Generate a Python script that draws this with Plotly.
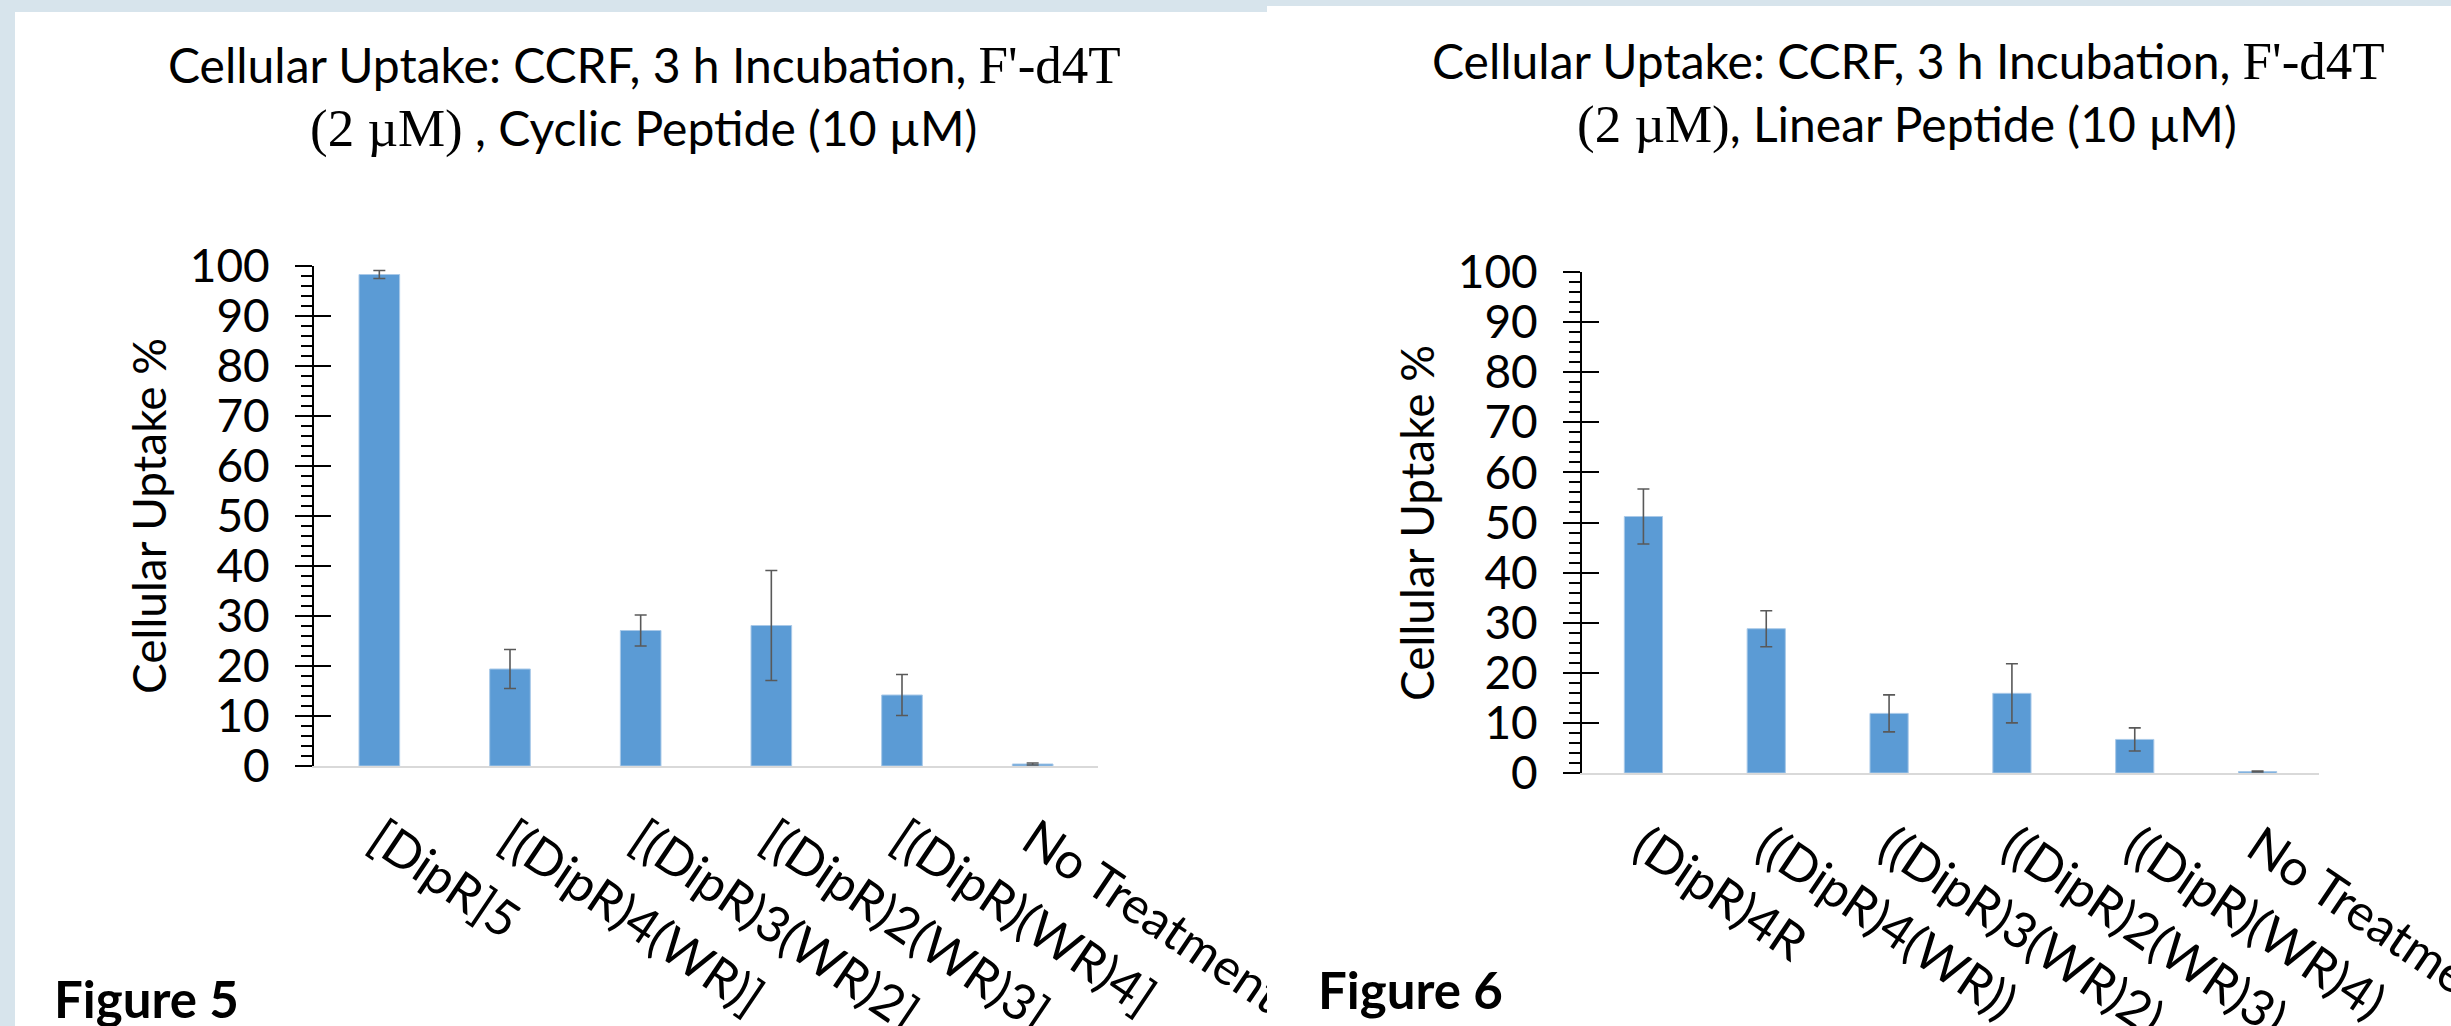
import plotly.graph_objects as go

W, H = 2451, 1026

# ---------------- data ----------------
cyclic_labels = ["[DipR]5", "[(DipR)4(WR)]", "[(DipR)3(WR)2]", "[(DipR)2(WR)3]", "[(DipR)(WR)4]", "No Treatment"]
cyclic_uptake = [98.3, 19.4, 27.1, 28.1, 14.2, 0.4]
cyclic_err = [0.8, 3.9, 3.1, 11.0, 4.1, 0.2]

linear_labels = ["(DipR)4R", "((DipR)4(WR))", "((DipR)3(WR)2)", "((DipR)2(WR)3)", "((DipR)(WR)4)", "No Treatment"]
linear_uptake = [51.2, 28.8, 11.9, 15.9, 6.7, 0.3]
linear_err = [5.5, 3.6, 3.7, 5.9, 2.3, 0.1]

y_ticks = [0, 10, 20, 30, 40, 50, 60, 70, 80, 90, 100]
y_title = "Cellular Uptake %"

SANS = "Lato"
SERIF = "Liberation Serif"
BAR = "#5B9BD5"
BG = "#d7e4ec"


def px(x):
    return x / W


def py(y):
    return 1 - y / H


fig = go.Figure()

for lbl, val, err, xa, ya in [
    (cyclic_labels, cyclic_uptake, cyclic_err, "x", "y"),
    (linear_labels, linear_uptake, linear_err, "x2", "y2"),
]:
    fig.add_trace(go.Bar(
        x=lbl, y=val, xaxis=xa, yaxis=ya,
        marker=dict(color=BAR, line=dict(color="#a9c9e8", width=1)),
        error_y=dict(type="data", array=err, color="#595959", thickness=1.6, width=6),
        showlegend=False, hoverinfo="x+y",
    ))

# invisible helper traces so the overlay axes (inside half of major ticks) render
fig.add_trace(go.Scatter(x=cyclic_labels, y=cyclic_uptake, xaxis="x", yaxis="y3", mode="markers",
                         marker=dict(opacity=0), showlegend=False, hoverinfo="skip"))
fig.add_trace(go.Scatter(x=linear_labels, y=linear_uptake, xaxis="x2", yaxis="y4", mode="markers",
                         marker=dict(opacity=0), showlegend=False, hoverinfo="skip"))

ytickfont = dict(family=SANS, size=46, color="black")
xtickfont = dict(family=SANS, size=50, color="black")


def yaxis_main(domain, anchor):
    return dict(
        domain=domain, anchor=anchor, range=[0, 100], tickvals=y_ticks,
        showgrid=False, zeroline=False, showline=True, linecolor="black", linewidth=2,
        ticks="outside", ticklen=17, tickwidth=2, tickcolor="black",
        minor=dict(dtick=2, ticks="outside", ticklen=11, tickwidth=2, tickcolor="black", showgrid=False),
        tickfont=ytickfont, ticklabelstandoff=16, automargin=False, fixedrange=True,
    )


def yaxis_overlay(base, anchor):
    return dict(
        overlaying=base, anchor=anchor, side="left", range=[0, 100], tickvals=y_ticks,
        showgrid=False, zeroline=False, showline=False,
        ticks="inside", ticklen=17, tickwidth=2, tickcolor="black",
        showticklabels=False, automargin=False, fixedrange=True,
    )


def xaxis_main(domain, anchor):
    return dict(
        domain=domain, anchor=anchor, showgrid=False, zeroline=False,
        showline=True, linecolor="#d9d9d9", linewidth=2,
        ticks="", tickangle=34, tickfont=xtickfont, ticklabelstandoff=23,
        automargin=False, fixedrange=True,
    )


fig.update_layout(
    width=W, height=H, margin=dict(l=0, r=0, t=0, b=0), autosize=False,
    paper_bgcolor=BG, plot_bgcolor="rgba(0,0,0,0)",
    bargap=0.689, showlegend=False,
    font=dict(family=SANS, color="black"),
    xaxis=xaxis_main([px(314), px(1098)], "y"),
    yaxis=yaxis_main([py(766), py(266)], "x"),
    xaxis2=xaxis_main([px(1582), px(2319)], "y2"),
    yaxis2=yaxis_main([py(773), py(272)], "x2"),
    yaxis3=yaxis_overlay("y", "x"),
    yaxis4=yaxis_overlay("y2", "x2"),
)

# panels (white cards on light frame)
fig.add_shape(type="rect", xref="paper", yref="paper", x0=px(15), x1=px(1267), y0=0, y1=py(12),
              fillcolor="white", line_width=0, layer="below")
fig.add_shape(type="rect", xref="paper", yref="paper", x0=px(1267), x1=1, y0=0, y1=py(6),
              fillcolor="white", line_width=0, layer="below")
# right card covers the overflow of the left chart's last label
fig.add_shape(type="rect", xref="paper", yref="paper", x0=px(1267), x1=px(1340), y0=0, y1=py(790),
              fillcolor="white", line_width=0, layer="above")

TF = 48
ser = lambda s: f"<span style='font-family:{SERIF};font-size:{round(TF * 1.1)}px'>{s}</span>"

titles = [
    ("Cellular Uptake: CCRF, 3 h Incubation, " + ser("F'-d4T"), 644, 65),
    (ser("(2 µM)") + " , Cyclic Peptide (10 µM)", 643, 128),
    ("Cellular Uptake: CCRF, 3 h Incubation, " + ser("F'-d4T"), 1908, 61),
    (ser("(2 µM)") + ", Linear Peptide (10 µM)", 1907, 124),
]
for txt, x, y in titles:
    fig.add_annotation(text=txt, x=px(x), y=py(y), xref="paper", yref="paper",
                       xanchor="center", yanchor="middle", showarrow=False,
                       font=dict(family=SANS, size=TF, color="black"))

for x, y in [(148, 516), (1416, 523)]:
    fig.add_annotation(text=y_title, x=px(x), y=py(y), xref="paper", yref="paper",
                       xanchor="center", yanchor="middle", textangle=-90, showarrow=False,
                       font=dict(family=SANS, size=46, color="black"))

for txt, x, y in [("<b>Figure 5</b>", 52, 966), ("<b>Figure 6</b>", 1316, 957)]:
    fig.add_annotation(text=txt, x=px(x), y=py(y), xref="paper", yref="paper",
                       xanchor="left", yanchor="top", showarrow=False,
                       font=dict(family=SANS, size=51, color="black"))

fig.write_html("out.html", config={"displayModeBar": False},
               post_script="document.body.style.margin='0';document.body.style.overflow='hidden';")
